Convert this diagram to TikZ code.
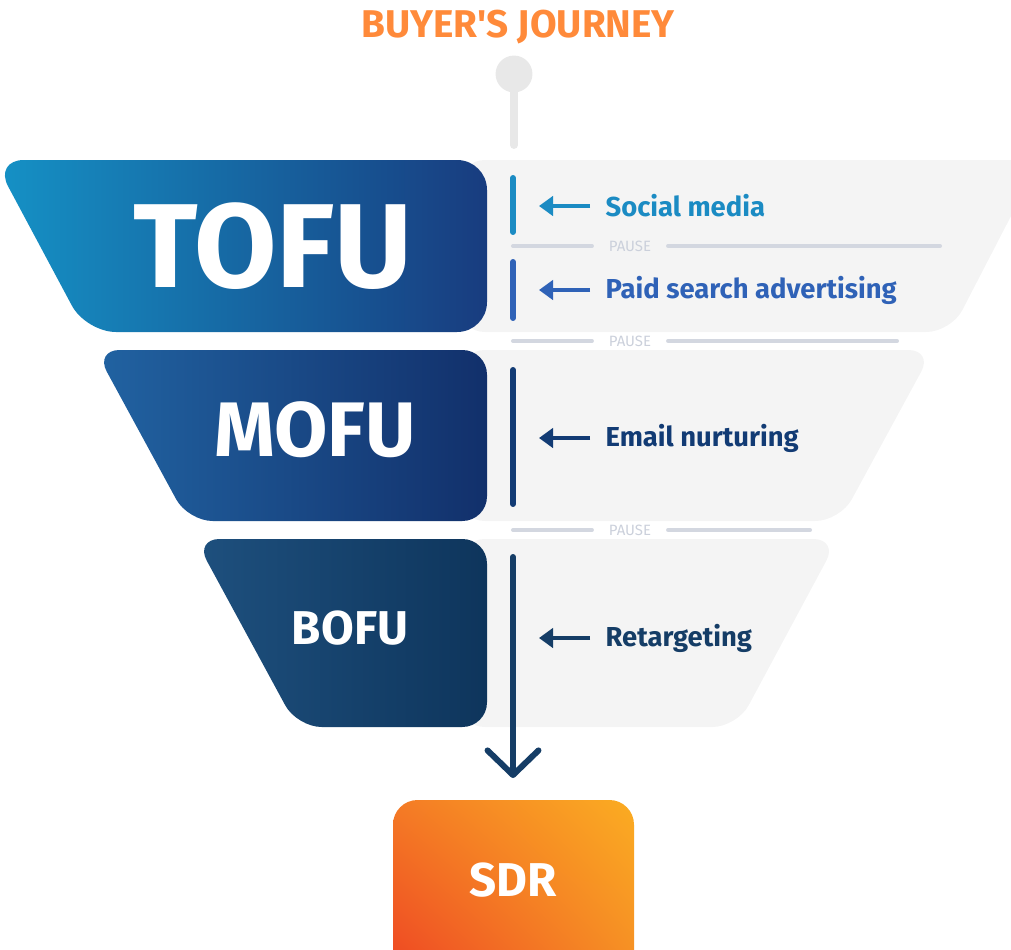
\documentclass[tikz,border=0pt]{standalone}
\usepackage{fontspec}
\setmainfont{Fira Sans}
\usetikzlibrary{arrows.meta,shadings}

\definecolor{titleorange}{HTML}{FF8A3A}
\definecolor{tofuL}{HTML}{1592C6}
\definecolor{tofuR}{HTML}{183C7F}
\definecolor{mofuL}{HTML}{2163A2}
\definecolor{mofuR}{HTML}{12306B}
\definecolor{bofuL}{HTML}{1E507E}
\definecolor{bofuR}{HTML}{0E355C}
\definecolor{socialc}{HTML}{1B8BC3}
\definecolor{paidc}{HTML}{2F62B7}
\definecolor{emailc}{HTML}{123B74}
\definecolor{retargc}{HTML}{153D66}
\definecolor{panelc}{HTML}{F4F4F4}
\definecolor{pausec}{HTML}{D3D7E0}
\definecolor{pausetxt}{HTML}{CBD0DB}
\definecolor{startc}{HTML}{E8E8E8}
\definecolor{sdrUL}{HTML}{F47B25}
\definecolor{sdrUR}{HTML}{FBAC22}
\definecolor{sdrLL}{HTML}{EE4423}
\definecolor{sdrLR}{HTML}{F58C25}

\tikzset{
  panel/.style={fill=panelc, rounded corners=14pt},
  stagebox/.style={rounded corners=14pt},
  stagetxt/.style={text=white, font=\bfseries},
  chantxt/.style={anchor=west, inner xsep=3pt, font=\bfseries\fontsize{15.6}{18}\selectfont},
  chanline/.style={line width=3.4pt, line cap=round},
  chanarrow/.style={line width=2.6pt, -{Triangle[length=8pt,width=11pt]}},
  pauseline/.style={pausec, line width=2.3pt, line cap=round},
  pausetag/.style={text=pausetxt, inner xsep=9.5pt, font=\fontsize{8.5}{10}\selectfont}
}

\begin{document}
\begin{tikzpicture}[x=0.02cm, y=-0.02cm]
  \useasboundingbox (0,0) rectangle (1011,950);

  % title and start point
  \node[text=titleorange, font=\bfseries\fontsize{22}{26}\selectfont] (title) at (518,27) {BUYER\textquotesingle S JOURNEY};
  \node[circle, fill=startc, minimum size=21pt, inner sep=0pt] (start) at (514,74) {};
  \coordinate (startend) at (514,145);
  \draw[startc, line width=4.5pt, line cap=round] (start) -- (startend);

  % funnel panels
  \fill[panel] (460,160) -- (1040,160) -- (951,332) -- (460,332) -- cycle;
  \fill[panel] (460,350) -- (933,350) -- (840,521) -- (460,521) -- cycle;
  \fill[panel] (460,539) -- (838,539) -- (737,727) -- (460,727) -- cycle;

  \shade[stagebox, left color=tofuL, right color=tofuR, rounded corners=17pt]
    (-6,160) -- (487,160) -- (487,332) -- (86,332) -- cycle;
  \shade[stagebox, left color=mofuL, right color=mofuR]
    (95,350) -- (487,350) -- (487,521) -- (188,521) -- cycle;
  \shade[stagebox, left color=bofuL, right color=bofuR]
    (195,539) -- (487,539) -- (487,727) -- (297,727) -- cycle;

  \node[stagetxt, font=\bfseries\fontsize{68}{74}\selectfont] (tofu) at (273,246) {TOFU};
  \node[stagetxt, font=\bfseries\fontsize{44}{50}\selectfont] (mofu) at (315,430) {MOFU};
  \node[stagetxt, font=\bfseries\fontsize{27}{32}\selectfont] (bofu) at (350,628) {BOFU};

  % SDR box
  \shade[rounded corners=14pt, upper left=sdrUL, upper right=sdrUR,
         lower left=sdrLL, lower right=sdrLR]
    (393,800) rectangle (634,980);
  \node[stagetxt, font=\bfseries\fontsize{27}{32}\selectfont] (sdr) at (513,880) {SDR};

  % journey lines
  \coordinate (l1a) at (513,178); \coordinate (l1b) at (513,232);
  \coordinate (l2a) at (513,262); \coordinate (l2b) at (513,318);
  \coordinate (l3a) at (513,370); \coordinate (l3b) at (513,504);
  \coordinate (l4a) at (513,557); \coordinate (l4b) at (513,778);
  \draw[chanline, socialc] (l1a) -- (l1b);
  \draw[chanline, paidc] (l2a) -- (l2b);
  \draw[chanline, emailc] (l3a) -- (l3b);
  \draw[retargc, line width=3.4pt, line cap=round, line join=round,
        -{Straight Barb[length=14pt,width=29pt,round]}] (l4a) -- (l4b);

  % pauses
  \node[pausetag] (pause1) at (630,246) {PAUSE};
  \node[pausetag] (pause2) at (630,341) {PAUSE};
  \node[pausetag] (pause3) at (630,530) {PAUSE};
  \coordinate (p1l) at (513,246); \coordinate (p1r) at (940,246);
  \coordinate (p2l) at (513,341); \coordinate (p2r) at (897,341);
  \coordinate (p3l) at (513,530); \coordinate (p3r) at (810,530);
  \draw[pauseline] (p1l) -- (pause1.west);
  \draw[pauseline] (pause1.east) -- (p1r);
  \draw[pauseline] (p2l) -- (pause2.west);
  \draw[pauseline] (pause2.east) -- (p2r);
  \draw[pauseline] (p3l) -- (pause3.west);
  \draw[pauseline] (pause3.east) -- (p3r);

  % channels
  \node[chantxt, text=socialc] (social) at (600,206) {Social media};
  \node[chantxt, text=paidc] (paid) at (600,290) {Paid search advertising};
  \node[chantxt, text=emailc] (email) at (600,438) {Email nurturing};
  \node[chantxt, text=retargc] (retarget) at (600,638) {Retargeting};
  \coordinate (socialin) at (539,206);
  \coordinate (paidin) at (539,290);
  \coordinate (emailin) at (539,438);
  \coordinate (retargetin) at (539,638);
  \draw[chanarrow, socialc] (social.west) ++(-10,0) -- (socialin);
  \draw[chanarrow, paidc] (paid.west) ++(-10,0) -- (paidin);
  \draw[chanarrow, emailc] (email.west) ++(-10,0) -- (emailin);
  \draw[chanarrow, retargc] (retarget.west) ++(-10,0) -- (retargetin);
\end{tikzpicture}
\end{document}
